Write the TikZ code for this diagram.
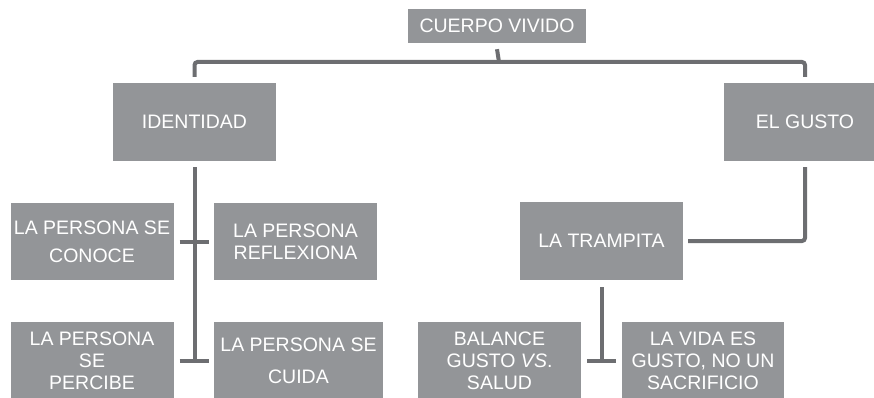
\documentclass[tikz,border=0pt]{standalone}
\usepackage{fontspec}
\setmainfont{Liberation Sans}
\definecolor{boxgray}{HTML}{939598}
\definecolor{linegray}{HTML}{6D6E71}
\begin{document}
\begin{tikzpicture}[x=1pt, y=-1pt,
    box/.style={rectangle, fill=boxgray, text=white, inner sep=0pt, align=center,
      font=\fontsize{19.5}{22}\selectfont, minimum height=78pt, minimum width=163pt},
    conn/.style={draw=linegray, line width=4pt}]
        \clip (0, 0) rectangle (874, 398);

        \node [ box, minimum width=178pt, minimum height=34pt ] (cuerpo) at (497, 26) {CUERPO VIVIDO};

        \node [ box ] (identidad) at (194.5, 122) {IDENTIDAD};
        \node [ box ] (gusto) at (805, 122) {EL GUSTO};

        \node [ box, minimum height=77pt ] (conoce) at (92, 241.5) {LA PERSONA SE\\[6pt] CONOCE};
        \node [ box, minimum height=77pt ] (reflexiona) at (295.5, 241.5) {LA PERSONA\\ REFLEXIONA};
        \node [ box ] (percibe) at (92, 361) {LA PERSONA\\ SE\\ PERCIBE};
        \node [ box, minimum width=169pt ] (cuida) at (298.5, 361) {LA PERSONA SE\\[10pt] CUIDA};

        \node [ box ] (trampita) at (601.5, 241) {LA TRAMPITA};
        \node [ box ] (balance) at (499.5, 361) {BALANCE\\ GUSTO \textit{VS}.\\ SALUD};
        \node [ box, minimum width=162pt ] (vida) at (703, 361) {LA VIDA ES\\ GUSTO, NO UN\\ SACRIFICIO};

        \coordinate (bus) at (499, 62);
        \draw [ conn ] ([yshift=-6pt]cuerpo.south) -- (bus);
        \draw [ conn, rounded corners=3pt ] ([yshift=6pt]identidad.north) |- (bus) -| ([yshift=6pt]gusto.north);

        \draw [ conn ] ([yshift=-6pt]identidad.south) -- (identidad.south |- percibe.east);
        \draw [ conn ] ([xshift=6pt]conoce.east) -- ([xshift=-5pt]reflexiona.west);
        \draw [ conn ] ([xshift=6pt]percibe.east) -- ([xshift=-5pt]cuida.west);

        \draw [ conn, rounded corners=3pt ] ([yshift=-6pt]gusto.south) |- ([xshift=5pt]trampita.east);
        \draw [ conn ] ([yshift=-7pt]trampita.south) -- (trampita.south |- balance.east);
        \draw [ conn ] ([xshift=6pt]balance.east) -- ([xshift=-6pt]vida.west);
\end{tikzpicture}
\end{document}
